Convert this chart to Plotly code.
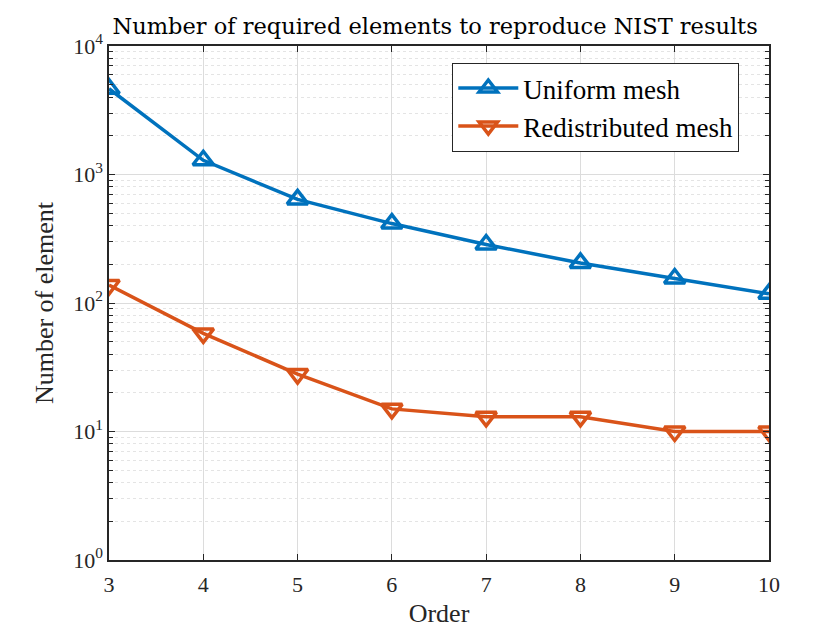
import plotly.graph_objects as go

order = [3, 4, 5, 6, 7, 8, 9, 10]
uniform = [4650, 1290, 640, 415, 285, 205, 155, 118]
redistributed = [138, 58, 28, 15, 13, 13, 10, 10]
ytick_vals = [1, 10, 100, 1000, 10000]
ytick_text = ["10<sup>0</sup>", "10<sup>1</sup>", "10<sup>2</sup>", "10<sup>3</sup>", "10<sup>4</sup>"]

FONT = "Liberation Serif"
blue = "#0072BD"
orange = "#D95319"

fig = go.Figure()
fig.add_trace(go.Scatter(
    x=order, y=uniform, mode="lines+markers", name="Uniform mesh",
    line=dict(color=blue, width=3.5),
    marker=dict(symbol="triangle-up-open", size=18, color=blue, line=dict(width=3.5, color=blue)),
))
fig.add_trace(go.Scatter(
    x=order, y=redistributed, mode="lines+markers", name="Redistributed mesh",
    line=dict(color=orange, width=3.5),
    marker=dict(symbol="triangle-down-open", size=18, color=orange, line=dict(width=3.5, color=orange)),
))

fig.update_layout(
    width=840, height=630,
    paper_bgcolor="white", plot_bgcolor="white",
    margin=dict(l=109, r=71, t=46, b=70),
    font=dict(family=FONT, size=22, color="#262626"),
    title=dict(text="Number of required elements to reproduce NIST results",
               x=0.518, xanchor="center", y=0.958, yanchor="middle",
               font=dict(family="DejaVu Serif", size=22.5, color="black")),
    showlegend=True,
    legend=dict(x=0.955, xanchor="right", y=0.967, yanchor="top",
                bgcolor="white", bordercolor="#262626", borderwidth=1,
                font=dict(family=FONT, size=27, color="black"),
                itemwidth=60, tracegroupgap=0),
)

fig.update_xaxes(
    range=[3, 10], tickvals=order, ticks="inside", ticklen=6, tickcolor="#262626",
    showline=True, linecolor="#262626", linewidth=1.5, mirror="ticks",
    showgrid=True, gridcolor="#dcdcdc", gridwidth=1, zeroline=False,
    ticklabelstandoff=4, automargin=False,
    title=dict(text="Order", font=dict(family=FONT, size=26, color="#262626"), standoff=8),
    tickfont=dict(family=FONT, size=22, color="#262626"),
)
fig.update_yaxes(
    type="log", range=[0, 4], tickvals=ytick_vals, ticktext=ytick_text,
    ticks="inside", ticklen=6, tickcolor="#262626",
    showline=True, linecolor="#262626", linewidth=1.5, mirror="ticks",
    showgrid=True, gridcolor="#dcdcdc", gridwidth=1, zeroline=False,
    automargin=False,
    minor=dict(ticks="inside", ticklen=4, tickcolor="#262626", showgrid=True,
               gridcolor="#e4e4e4", griddash="dot", gridwidth=1,
               dtick="D1"),
    title=dict(text="Number of element", font=dict(family=FONT, size=26, color="#262626"), standoff=12),
    tickfont=dict(family=FONT, size=22, color="#262626"),
)

fig.write_html("out.html", config={"displayModeBar": False},
               post_script="document.body.style.margin='0';")
